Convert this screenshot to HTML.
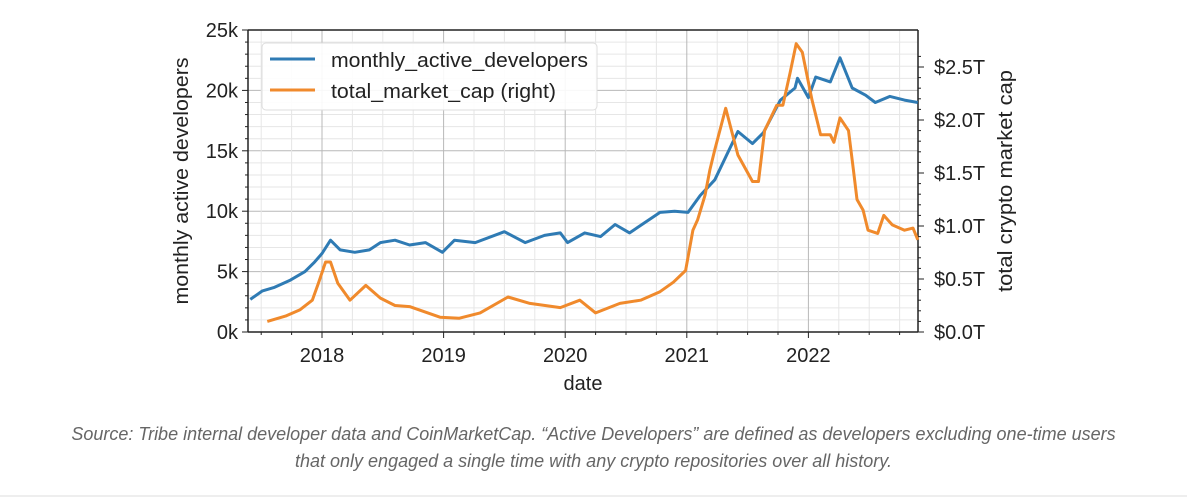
<!DOCTYPE html>
<html><head><meta charset="utf-8"><style>
body{margin:0;background:#fff;width:1187px;height:499px;overflow:hidden;font-family:"Liberation Sans",sans-serif}
.cap{position:absolute;left:0;width:1187px;text-align:center;font-style:italic;color:#666;font-size:18px}
</style></head><body>
<svg id="chart" width="1187" height="420" style="position:absolute;left:0;top:0" font-family="Liberation Sans, sans-serif"></svg>
<div class="cap" style="top:421px;line-height:27px">Source: Tribe internal developer data and CoinMarketCap. “Active Developers” are defined as developers excluding one-time users<br>that only engaged a single time with any crypto repositories over all history.</div>
<div style="position:absolute;left:0;top:495px;width:1187px;height:2px;background:#eee"></div>
<script>
const devDates=[2017.41,2017.51,2017.61,2017.74,2017.86,2017.94,2018.00,2018.07,2018.15,2018.27,2018.39,2018.48,2018.60,2018.72,2018.85,2018.99,2019.09,2019.26,2019.50,2019.67,2019.83,2019.96,2020.02,2020.16,2020.29,2020.41,2020.53,2020.66,2020.78,2020.90,2021.01,2021.11,2021.23,2021.42,2021.54,2021.63,2021.77,2021.89,2021.91,2022.00,2022.06,2022.18,2022.26,2022.36,2022.47,2022.55,2022.67,2022.79,2022.90];
const devValues=[2.7,3.4,3.7,4.3,5.0,5.8,6.5,7.6,6.8,6.6,6.8,7.4,7.6,7.2,7.4,6.6,7.6,7.4,8.3,7.4,8.0,8.2,7.4,8.2,7.9,8.9,8.2,9.1,9.9,10.0,9.9,11.3,12.6,16.6,15.6,16.5,19.2,20.2,21.0,19.4,21.1,20.7,22.7,20.2,19.6,19.0,19.5,19.2,19.0];
const capDates=[2017.55,2017.70,2017.82,2017.92,2017.97,2018.03,2018.07,2018.13,2018.23,2018.36,2018.48,2018.60,2018.72,2018.97,2019.13,2019.30,2019.53,2019.71,2019.96,2020.12,2020.25,2020.45,2020.62,2020.78,2020.89,2020.99,2021.05,2021.09,2021.15,2021.19,2021.23,2021.32,2021.42,2021.54,2021.59,2021.64,2021.74,2021.79,2021.85,2021.90,2021.95,2022.03,2022.10,2022.18,2022.21,2022.26,2022.33,2022.37,2022.40,2022.45,2022.49,2022.57,2022.62,2022.69,2022.79,2022.86,2022.90];
const capValues=[0.10,0.15,0.21,0.30,0.46,0.66,0.66,0.46,0.30,0.44,0.32,0.25,0.24,0.14,0.13,0.18,0.33,0.27,0.23,0.30,0.18,0.27,0.30,0.38,0.47,0.58,0.96,1.06,1.29,1.53,1.72,2.11,1.67,1.42,1.42,1.90,2.14,2.14,2.45,2.72,2.64,2.19,1.86,1.86,1.79,2.02,1.90,1.53,1.25,1.15,0.96,0.93,1.10,1.01,0.96,0.98,0.87];
const yearTicks=[2018,2019,2020,2021,2022];
const leftTicks=[0,5,10,15,20,25];
const rightTicks=[0,0.5,1.0,1.5,2.0,2.5];

const L=248,R=918,T=30,B=332;
const X=t=>322+(t-2018)*121.6;
const YL=v=>B-v*(B-T)/25;
const YR=v=>B-v*106;
const svg=document.getElementById('chart');
const NS='http://www.w3.org/2000/svg';
function mk(tag,attrs,parent){const e=document.createElementNS(NS,tag);for(const k in attrs)e.setAttribute(k,attrs[k]);(parent||svg).appendChild(e);return e;}
for(let v=0;v<=25;v++){const y=YL(v);const g=mk('line',{x1:L,x2:R,y1:y,y2:y,stroke:v%5?'#e6e6e6':'#b8b8b8','stroke-width':1});

}
for(let m=2017.5;m<2023;m+=0.25){const x=X(m);if(x<L||x>R)continue;const g=mk('line',{x1:x,x2:x,y1:T,y2:B,stroke:Math.abs(m-Math.round(m))<0.01?'#b8b8b8':'#e6e6e6','stroke-width':1});

}
mk('line',{x1:L,x2:R,y1:T,y2:T,stroke:'#222','stroke-width':1.5});
mk('line',{x1:L,x2:R,y1:B,y2:B,stroke:'#222','stroke-width':1.5});
mk('line',{x1:L,x2:L,y1:T,y2:B,stroke:'#222','stroke-width':1.5});
mk('line',{x1:R,x2:R,y1:T,y2:B,stroke:'#222','stroke-width':1.5});
for(let v=0;v<=25;v++){mk('line',{x1:L-(v%5?3:6),x2:L,y1:YL(v),y2:YL(v),stroke:'#222'});}
leftTicks.forEach(v=>{const t=mk('text',{x:L-10,y:YL(v)+7,'text-anchor':'end','font-size':20,fill:'#222'});t.textContent=v+'k';

});
for(let i=0;i<=26;i++){const v=i*0.1;mk('line',{x1:R,x2:R+(i%5?3:6),y1:YR(v),y2:YR(v),stroke:'#222'});}
rightTicks.forEach(v=>{const t=mk('text',{x:R+16,y:YR(v)+7,'font-size':20,fill:'#222'});t.textContent='$'+v.toFixed(1)+'T';

});
for(let m=2017.5;m<2023;m+=0.25){const x=X(m);if(x<L||x>R)continue;const maj=Math.abs(m-Math.round(m))<0.01;mk('line',{x1:x,x2:x,y1:B,y2:B+(maj?6:3),stroke:'#222'});}
yearTicks.forEach(y=>{const t=mk('text',{x:X(y),y:B+30,'text-anchor':'middle','font-size':20,fill:'#222'});t.textContent=y;

});
const dp=devDates.map((d,i)=>X(d).toFixed(1)+','+YL(devValues[i]).toFixed(1)).join(' ');
const dl=mk('polyline',{points:dp,fill:'none',stroke:'#2f7bb4','stroke-width':3,'stroke-linejoin':'round'});


const cp=capDates.map((d,i)=>X(d).toFixed(1)+','+YR(capValues[i]).toFixed(1)).join(' ');
const cl=mk('polyline',{points:cp,fill:'none',stroke:'#f08a2c','stroke-width':3,'stroke-linejoin':'round'});


const lg=mk('g',{});


mk('rect',{x:262,y:43,width:335,height:67,rx:4,fill:'#fff','fill-opacity':0.9,stroke:'#ddd'},lg);
mk('line',{x1:270,x2:315,y1:59,y2:59,stroke:'#2f7bb4','stroke-width':3},lg);
mk('line',{x1:270,x2:315,y1:90,y2:90,stroke:'#f08a2c','stroke-width':3},lg);
let t1=mk('text',{x:331,y:67,'font-size':20,fill:'#222',textLength:257,lengthAdjust:'spacingAndGlyphs'},lg);t1.textContent='monthly_active_developers';
let t2=mk('text',{x:331,y:98,'font-size':20,fill:'#222',textLength:225,lengthAdjust:'spacingAndGlyphs'},lg);t2.textContent='total_market_cap (right)';
let a=mk('text',{x:0,y:0,'font-size':20,fill:'#222','text-anchor':'middle',textLength:247,lengthAdjust:'spacingAndGlyphs',transform:'translate(188,181) rotate(-90)'});a.textContent='monthly active developers';


let b=mk('text',{x:0,y:0,'font-size':20,fill:'#222','text-anchor':'middle',textLength:222,lengthAdjust:'spacingAndGlyphs',transform:'translate(1012,181) rotate(-90)'});b.textContent='total crypto market cap';


let c=mk('text',{x:583,y:390,'font-size':20,fill:'#222','text-anchor':'middle'});c.textContent='date';


</script>
</body></html>
